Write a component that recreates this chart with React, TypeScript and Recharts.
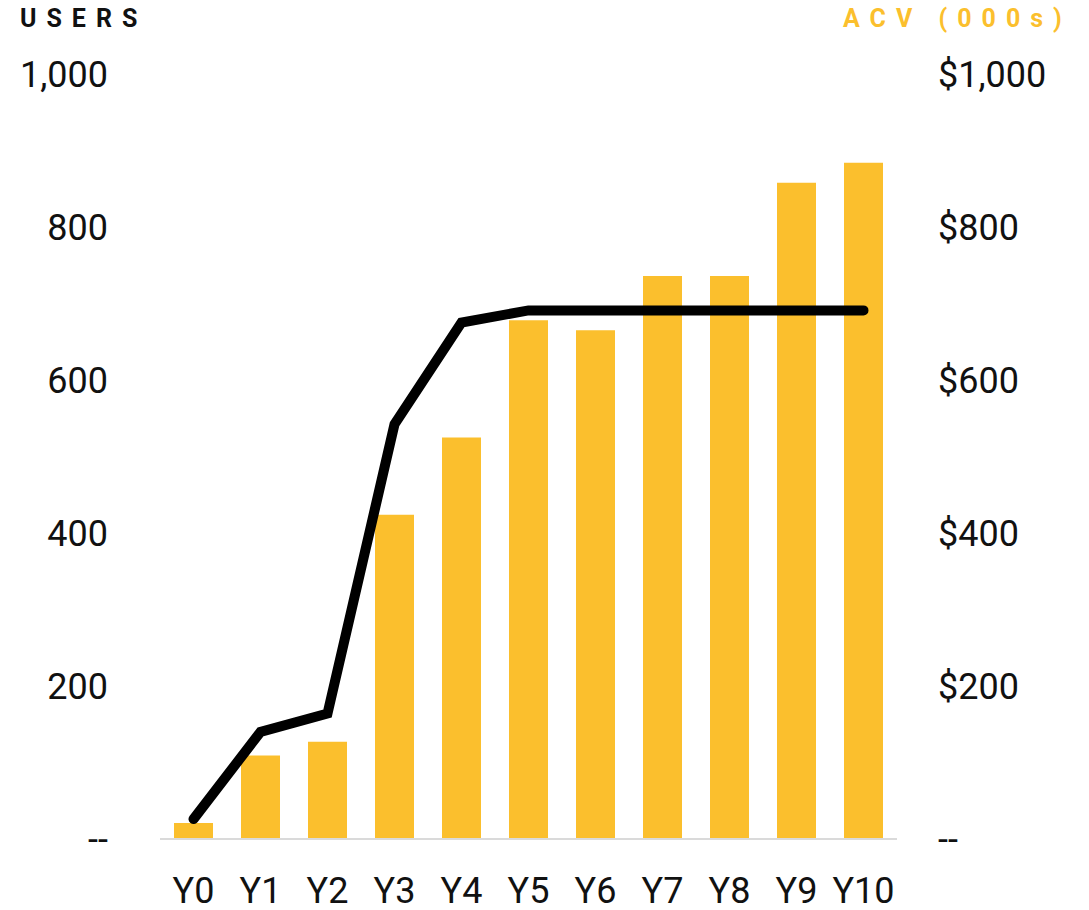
import React from 'react'
import { ComposedChart, Bar, Line, XAxis, YAxis } from 'recharts'

const years = ['Y0', 'Y1', 'Y2', 'Y3', 'Y4', 'Y5', 'Y6', 'Y7', 'Y8', 'Y9', 'Y10']
const acv = [21, 109, 127, 424, 525, 678, 665, 736, 736, 858, 884]
const users = [26, 140, 164, 542, 675, 691, 691, 691, 691, 691, 691]
const axisTicks = [0, 200, 400, 600, 800, 1000]

const data = years.map((year, i) => ({ year, acv: acv[i], users: users[i] }))

const tickStyle = { fontFamily: 'Roboto', fontSize: 36, fill: '#111' }

export default function App() {
  return (
    <div style={{ position: 'absolute', left: 0, top: 0, width: 1089, height: 910, fontFamily: 'Roboto' }}>
      {/* axis titles */}
      <div
        style={{
          position: 'absolute', left: 20, top: 4, fontSize: 25, fontWeight: 700,
          letterSpacing: 10, color: '#111',
        }}
      >
        USERS
      </div>
      <div
        style={{
          position: 'absolute', left: 843, top: 4, fontSize: 25, fontWeight: 700,
          letterSpacing: 10, color: '#fbbf2d', whiteSpace: 'nowrap',
        }}
      >
        ACV (000s)
      </div>

      <ComposedChart width={1089} height={910} data={data} margin={{ top: 74, right: 0, left: 0, bottom: 0 }}>
        <XAxis
          dataKey="year"
          height={71}
          tickLine={false}
          tickSize={0}
          tickMargin={38}
          axisLine={{ stroke: '#dadada', strokeWidth: 2 }}
          tick={tickStyle}
        />
        <YAxis
          yAxisId="left"
          orientation="left"
          width={160}
          domain={[0, 1000]}
          ticks={axisTicks}
          axisLine={false}
          tickLine={false}
          tickSize={0}
          tickMargin={52}
          tick={tickStyle}
          tickFormatter={(v: number) => (v === 0 ? '--' : v.toLocaleString('en-US'))}
        />
        <YAxis
          yAxisId="right"
          orientation="right"
          width={192}
          domain={[0, 1000]}
          ticks={axisTicks}
          axisLine={false}
          tickLine={false}
          tickSize={0}
          tickMargin={41}
          tick={tickStyle}
          tickFormatter={(v: number) => (v === 0 ? '--' : '$' + v.toLocaleString('en-US'))}
        />
        <Bar yAxisId="right" dataKey="acv" fill="#fbbf2d" barSize={39} isAnimationActive={false} />
        <Line
          yAxisId="left"
          dataKey="users"
          stroke="#000"
          strokeWidth={10}
          strokeLinecap="round"
          dot={false}
          activeDot={false}
          type="linear"
          isAnimationActive={false}
        />
      </ComposedChart>
    </div>
  )
}
